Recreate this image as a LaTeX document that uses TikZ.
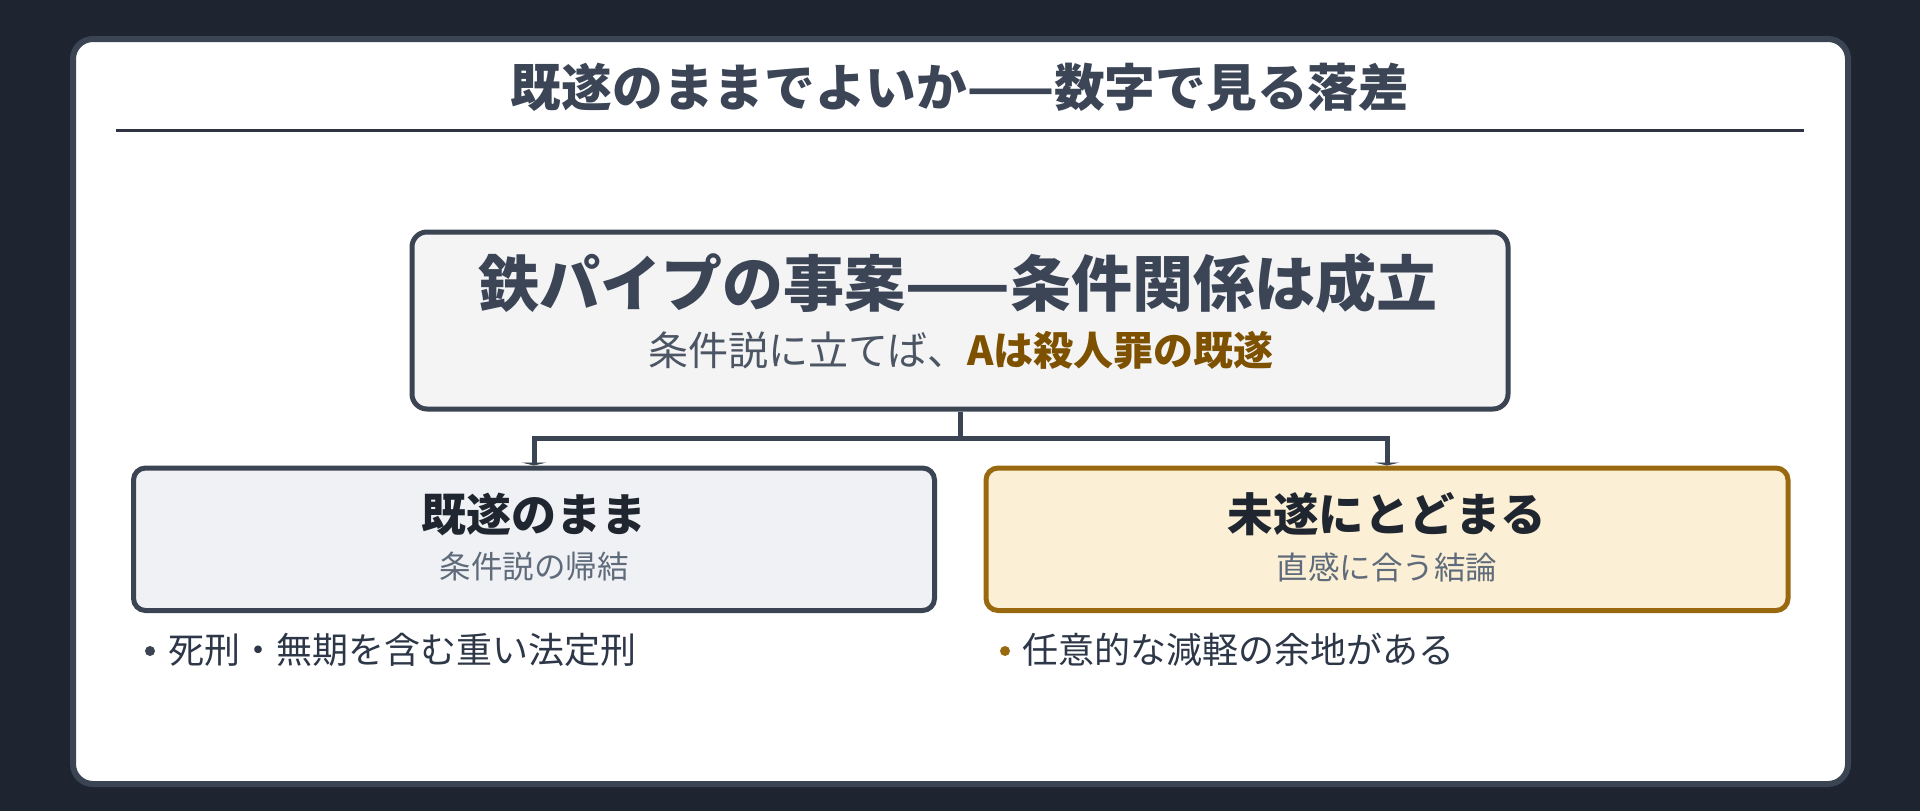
\documentclass[tikz,border=0pt]{standalone}
\usepackage{fontspec}
\setmainfont{Noto Sans CJK JP}
\usetikzlibrary{arrows.meta}
\definecolor{bgdark}{HTML}{1F2530}
\definecolor{slate}{HTML}{3A4452}
\definecolor{titlec}{HTML}{3B4556}
\definecolor{rulec}{HTML}{2D3340}
\definecolor{subc}{HTML}{4B5563}
\definecolor{mutedc}{HTML}{5F6B7A}
\definecolor{inkc}{HTML}{1F2630}
\definecolor{bodyc}{HTML}{2D3748}
\definecolor{brownc}{HTML}{7D5100}
\definecolor{brownline}{HTML}{98690E}
\definecolor{mainfill}{HTML}{F4F4F5}
\definecolor{leftfill}{HTML}{EFF1F5}
\definecolor{rightfill}{HTML}{FBEFD5}
\tikzset{
  card/.style={draw=slate, line width=6pt, fill=white, rounded corners=20pt, minimum width=1775pt, minimum height=745pt, inner sep=0pt},
  mainbox/.style={draw=slate, line width=5pt, fill=mainfill, rounded corners=15pt, minimum width=1096pt, minimum height=177pt, inner sep=0pt},
  leftbox/.style={draw=slate, line width=5pt, fill=leftfill, rounded corners=12pt, minimum width=801pt, minimum height=142.5pt, inner sep=0pt},
  rightbox/.style={draw=brownline, line width=5pt, fill=rightfill, rounded corners=12pt, minimum width=802pt, minimum height=142.5pt, inner sep=0pt},
  conn/.style={draw=slate, line width=5pt},
  tipconn/.style={conn, -{Triangle[width=25pt,length=3pt]}},
  lbl/.style={inner sep=0pt, outer sep=0pt},
  dot/.style={circle, minimum size=10pt, inner sep=0pt},
}
\begin{document}
\begin{tikzpicture}[x=1pt, y=-1pt]
\useasboundingbox[fill=bgdark] (0,0) rectangle (1920,811);
\node[card] (card) at (960.5,411.5) {};
% title
\node[lbl, text=titlec, font=\bfseries\fontsize{50.7}{60}\selectfont] (title) at (960,87) {既遂のままでよいか——数字で見る落差};
\coordinate (rl) at (116,130);
\coordinate (rr) at (1804,130);
\draw[draw=rulec, line width=3pt] (rl) -- (rr);
% main box
\node[mainbox] (main) at (960,320.5) {};
\node[lbl, text=titlec, font=\bfseries\fontsize{61}{70}\selectfont] (mainA) at (958,283) {鉄パイプの事案——条件関係は成立};
\node[lbl, text=subc, font=\fontsize{40}{46}\selectfont] (mainB) at (961,351) {条件説に立てば、\textcolor{brownc}{\bfseries Aは殺人罪の既遂}};
% lower boxes
\node[leftbox] (left) at (534,539.25) {};
\node[rightbox] (right) at (1387,539.25) {};
\node[lbl, text=inkc, font=\bfseries\fontsize{45}{52}\selectfont] (leftA) at (534,514) {既遂のまま};
\node[lbl, text=mutedc, font=\fontsize{31.5}{38}\selectfont] (leftB) at (534,567) {条件説の帰結};
\node[lbl, text=inkc, font=\bfseries\fontsize{45.5}{52}\selectfont] (rightA) at (1387,514) {未遂にとどまる};
\node[lbl, text=mutedc, font=\fontsize{31.5}{38}\selectfont] (rightB) at (1387,567) {直感に合う結論};
% connectors
\coordinate (j) at (960,438.5);
\draw[conn] (main.south) -- (j);
\draw[tipconn] (j) -| (left.north);
\draw[tipconn] (j) -| (right.north);
% bullets
\node[dot, fill=slate] (bl) at (150,651) {};
\node[lbl, anchor=west, text=bodyc, font=\fontsize{36}{42}\selectfont] (tl) at (168,650) {死刑・無期を含む重い法定刑};
\node[dot, fill=brownline] (br) at (1005,651) {};
\node[lbl, anchor=west, text=bodyc, font=\fontsize{36}{42}\selectfont] (tr) at (1022,650) {任意的な減軽の余地がある};
\end{tikzpicture}
\end{document}
